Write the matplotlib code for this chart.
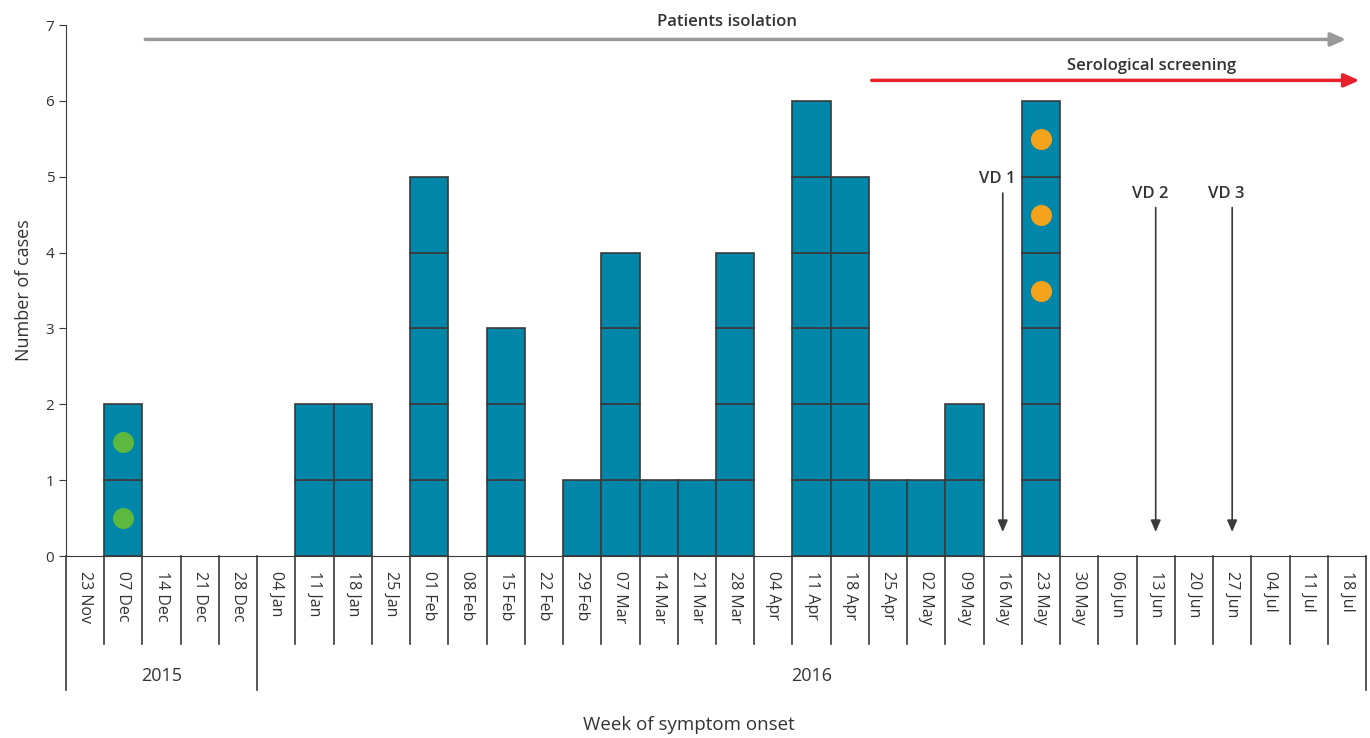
import matplotlib
matplotlib.use("Agg")
import matplotlib.pyplot as plt

weeks = ["23 Nov", "07 Dec", "14 Dec", "21 Dec", "28 Dec", "04 Jan", "11 Jan", "18 Jan",
         "25 Jan", "01 Feb", "08 Feb", "15 Feb", "22 Feb", "29 Feb", "07 Mar", "14 Mar",
         "21 Mar", "28 Mar", "04 Apr", "11 Apr", "18 Apr", "25 Apr", "02 May", "09 May",
         "16 May", "23 May", "30 May", "06 Jun", "13 Jun", "20 Jun", "27 Jun", "04 Jul",
         "11 Jul", "18 Jul"]
cases = [0, 2, 0, 0, 0, 0, 2, 2, 0, 5, 0, 3, 0, 1, 4, 1, 1, 4, 0, 6, 5, 1, 1, 2,
         0, 6, 0, 0, 0, 0, 0, 0, 0, 0]
green_week = "07 Dec"
green_levels = [0.5, 1.5]
orange_week = "23 May"
orange_levels = [3.5, 4.5, 5.5]
vd_labels = ["VD 1", "VD 2", "VD 3"]
vd_weeks = ["16 May", "13 Jun", "27 Jun"]
years = ["2015", "2016"]
year_bounds = [(-0.5, 4.5), (4.5, 33.5)]

plt.rcParams['font.family'] = ['Open Sans', 'DejaVu Sans']
txt = '#333333'
edge = '#3a3a3a'

fig = plt.figure(figsize=(13.7, 7.38), dpi=100)
ax = fig.add_axes([66 / 1370, 1 - 556 / 738, 1300 / 1370, 531 / 738])

idx = {w: i for i, w in enumerate(weeks)}

# stacked unit boxes, one per case
for i, n in enumerate(cases):
    for k in range(n):
        ax.bar(i, 1, bottom=k, width=1.0, color='#0086a8', edgecolor=edge, linewidth=1.2, zorder=2)

ax.scatter([idx[green_week]] * len(green_levels), green_levels, s=200, color='#5db83f', zorder=3)
ax.scatter([idx[orange_week]] * len(orange_levels), orange_levels, s=200, color='#f5a31a', zorder=3)

ax.set_xlim(-0.5, len(weeks) - 0.5)
ax.set_ylim(0, 7)
ax.set_yticks(range(8))
ax.tick_params(axis='y', length=5, color=edge, labelsize=11, labelcolor=txt)
ax.set_xticks([])
for s in ['top', 'right']:
    ax.spines[s].set_visible(False)
ax.spines['left'].set_color(edge)
ax.spines['bottom'].set_color(edge)
ax.set_ylabel("Number of cases", fontsize=13, color=txt, labelpad=9)

# week labels and separators below the axis
for i, w in enumerate(weeks):
    ax.text(i, -0.2, w, rotation=270, ha='center', va='top', fontsize=11.5, color=txt, clip_on=False)
for b in range(len(weeks) + 1):
    x = b - 0.5
    bottom = -1.77 if b in (0, 5, len(weeks)) else -1.16
    ax.plot([x, x], [0, bottom], color=edge, lw=1.2, clip_on=False)

for y, (a, b) in zip(years, year_bounds):
    ax.text((a + b) / 2, -1.58, y, ha='center', va='center', fontsize=13, color=txt, clip_on=False)

ax.text(15.8, -2.23, "Week of symptom onset", ha='center', va='center', fontsize=13.5, color=txt, clip_on=False)

# intervention arrows
ax.annotate("", xy=(33.05, 6.81), xytext=(1.5, 6.81),
            arrowprops=dict(arrowstyle='-|>,head_length=0.9,head_width=0.4', color='#999999', lw=2.5),
            annotation_clip=False)
ax.text(16.8, 7.04, "Patients isolation", ha='center', va='center', fontsize=12,
        fontweight='semibold', color=txt, clip_on=False)
ax.annotate("", xy=(33.4, 6.27), xytext=(20.5, 6.27),
            arrowprops=dict(arrowstyle='-|>,head_length=0.9,head_width=0.4', color='#e8202a', lw=2.5),
            annotation_clip=False)
ax.text(27.9, 6.46, "Serological screening", ha='center', va='center', fontsize=12,
        fontweight='semibold', color=txt)

tops = [4.82, 4.63, 4.63]
for lab, w, t in zip(vd_labels, vd_weeks, tops):
    x = idx[w]
    ax.annotate("", xy=(x, 0.28), xytext=(x, t),
                arrowprops=dict(arrowstyle='-|>,head_length=0.7,head_width=0.3', color=edge, lw=1.2))
    ax.text(x - 0.15, t + 0.04, lab, ha='center', va='bottom', fontsize=12,
            fontweight='semibold', color=txt)

fig.savefig("out.png", dpi=100)
